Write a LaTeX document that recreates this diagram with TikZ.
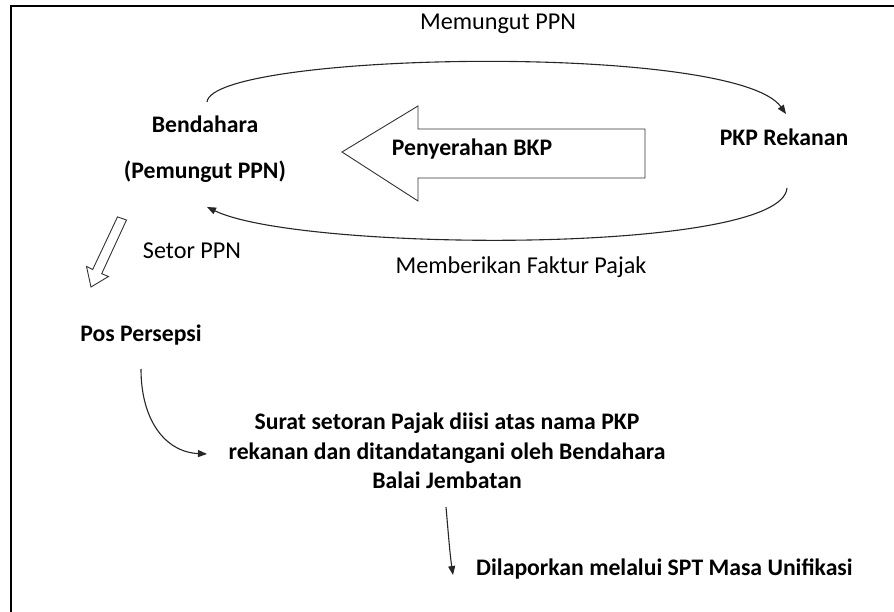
\documentclass[tikz,border=0pt]{standalone}
\usepackage{fontspec}
\setmainfont{Carlito}
\usetikzlibrary{arrows.meta}
\tikzset{
  lbl/.style={inner sep=0pt, font=\fontsize{24.2}{28}\selectfont},
  blbl/.style={inner sep=0pt, font=\fontsize{23.7}{28}\selectfont\bfseries},
  conn/.style={line width=1.1pt, draw=black!85, -{Triangle[length=9pt,width=7pt]}},
  hollow/.style={line width=0.9pt, draw=black!80, fill=white, line join=miter},
}
\begin{document}
\begin{tikzpicture}[x=1pt,y=-1pt]
\useasboundingbox (0,0) rectangle (894,612);
% frame (top and left edges visible)
\draw[line width=2.5pt] (11,612) -- (11,6) -- (894,6);

% texts
\node[lbl] (mem) at (498,24) {Memungut PPN};
\node[blbl, align=center, font=\fontsize{23.7}{46}\selectfont\bfseries] (bend) at (205,149) {Bendahara\\(Pemungut PPN)};
\node[blbl] (pkp) at (784,137) {PKP Rekanan};
\node[lbl] (fak) at (521,267) {Memberikan Faktur Pajak};
\node[lbl] (setor) at (192,251) {Setor PPN};
\node[blbl] (pos) at (141,335) {Pos Persepsi};
\node[blbl, align=center, font=\fontsize{23.7}{29.5}\selectfont\bfseries] (surat) at (447,451) {Surat setoran Pajak diisi atas nama PKP\\rekanan dan ditandatangani oleh Bendahara\\Balai Jembatan};
\node[blbl, anchor=west] (lapor) at (476,569) {Dilaporkan melalui SPT Masa Unifikasi};

% big hollow arrow (Penyerahan BKP)
\draw[hollow] (342,152) -- (418,106) -- (418,129) -- (645,129) -- (645,178) -- (418,178) -- (418,201) -- cycle;
\node[blbl] (bkp) at (472,149) {Penyerahan BKP};

% curved connectors
\coordinate (c1) at (207,102);
\coordinate (c2) at (786,114);
\coordinate (c3) at (787,188);
\coordinate (c4) at (207,207);
\coordinate (c5) at (141,369);
\coordinate (c6) at (207,454);
\coordinate (c7) at (446,507);
\coordinate (c8) at (453,575);

\draw[conn] (c1) .. controls (212,52) and (735,42) .. (c2);
\draw[conn] (c3) .. controls (782,255) and (300,252) .. (c4);
\draw[conn] (c5) .. controls (141,420) and (165,452) .. (c6);
\draw[conn] (c7) .. controls (448,530) and (450,555) .. (c8);

% small hollow arrow (Setor PPN)
\draw[hollow] (126.5,220) -- (101.7,273.7) -- (108.5,276.5) -- (91,287) -- (86.5,266.5) -- (92.7,269.5) -- (117.5,216.9) -- cycle;
\end{tikzpicture}
\end{document}
